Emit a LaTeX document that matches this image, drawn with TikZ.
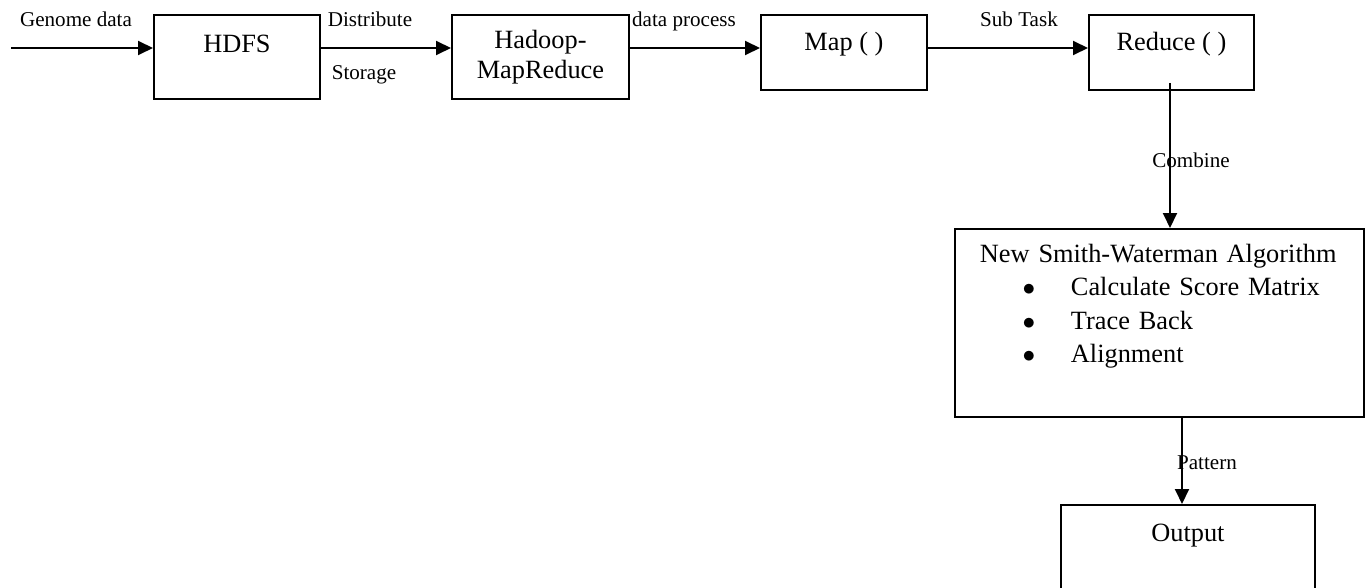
\documentclass[tikz,border=0pt]{standalone}
\usepackage{fontspec}
\setmainfont{Liberation Serif}
\usetikzlibrary{arrows.meta}

\newcommand{\switem}[1]{\hspace*{1.48cm}\makebox[0pt]{$\bullet$}\hspace*{0.84cm}#1}

\begin{document}
\begin{tikzpicture}[x=0.02cm, y=-0.02cm,
    box/.style={draw, line width=1.1pt, inner sep=0pt, anchor=north west,
        font=\fontsize{15}{17}\selectfont},
    flow/.style={line width=1.1pt, -{Triangle[length=0.3cm, width=0.28cm]}},
    lbl/.style={anchor=base, inner sep=0pt, font=\fontsize{12}{14}\selectfont}]
    \useasboundingbox (0,0) rectangle (1367,588);

    % Top Row Boxes
    \node[box, minimum width=3.32cm, text height=0.76cm, text depth=0.92cm] (hdfs) at (153,14) {HDFS};
    \node[box, text width=3.54cm, align=center, text height=0.68cm, text depth=1.0cm] (hadoop) at (451,14) {Hadoop-\\MapReduce};
    \node[box, minimum width=3.32cm, text height=0.72cm, text depth=0.78cm] (map) at (760,14) {Map ( )};
    \node[box, minimum width=3.30cm, text height=0.72cm, text depth=0.78cm] (reduce) at (1088,14) {Reduce ( )};

    % Algorithm Box
    \node[box, text width=8.18cm, align=left, font=\fontsize{15}{18.8}\selectfont,
        text height=0.68cm, text depth=3.08cm] (smith) at (954,228)
        {\hspace*{0.5cm}New Smith-Waterman Algorithm\\
         \switem{Calculate Score Matrix}\\
         \switem{Trace Back}\\
         \switem{Alignment}};

    % Output Box (runs past the bottom edge)
    \node[box, minimum width=5.08cm, text height=0.74cm, text depth=1.58cm] (out) at (1060,504) {Output};

    % Arrows
    \coordinate (row) at (11,48);
    \coordinate (cmb) at (1170,83);
    \coordinate (pat) at (1182,0);
    \draw[flow] (row) -- (row -| hdfs.west);
    \draw[flow] (hdfs.east |- row) -- (hadoop.west |- row);
    \draw[flow] (hadoop.east |- row) -- (map.west |- row);
    \draw[flow] (map.east |- row) -- (reduce.west |- row);
    \draw[flow] (cmb) -- (cmb |- smith.north);
    \draw[flow] (pat |- smith.south) -- (pat |- out.north);

    % Arrow Labels
    % -- top row
    \node[lbl] (genome) at (76,27) {Genome data};
    \node[lbl] (distribute) at (370,27) {Distribute};
    \node[lbl] (storage) at (364,80) {Storage};
    \node[lbl] (dataproc) at (684,27) {data process};
    \node[lbl] (subtask) at (1019,27) {Sub Task};

    % -- right column
    \node[lbl] (combine) at (1191,168) {Combine};
    \node[lbl] (pattern) at (1207,469) {Pattern};
\end{tikzpicture}
\end{document}
